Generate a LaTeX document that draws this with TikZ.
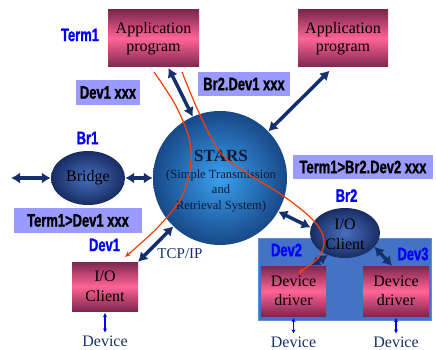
\documentclass[tikz,border=0pt]{standalone}
\usepackage{fontspec}
\setmainfont{Liberation Serif}
\newfontfamily\labfont[FakeStretch=0.72,FakeBold=1.2]{Liberation Sans}
\usetikzlibrary{arrows.meta,shapes.geometric}
\definecolor{navy}{RGB}{22,48,108}
\definecolor{boxdark}{RGB}{125,38,78}
\definecolor{boxmid}{RGB}{255,100,150}
\definecolor{lav}{RGB}{155,155,255}
\definecolor{redl}{RGB}{255,60,0}
\definecolor{contblue}{RGB}{68,114,196}
\definecolor{contedge}{RGB}{100,140,215}
\definecolor{starin}{RGB}{58,160,240}
\definecolor{starout}{RGB}{24,72,135}
\definecolor{ellin}{RGB}{72,112,192}
\definecolor{ellout}{RGB}{24,44,98}
\begin{document}
\begin{tikzpicture}[x=1pt,y=-1pt,
  pinkbox/.style={rectangle, top color=boxdark, bottom color=boxdark, middle color=boxmid,
    align=center, inner sep=0pt, font=\fontsize{16}{18}\selectfont},
  lavbox/.style={rectangle, fill=lav, inner sep=0pt, font=\labfont\bfseries\fontsize{18}{18}\selectfont},
  bluelab/.style={text=blue, inner sep=0pt, font=\labfont\bfseries\fontsize{18}{18}\selectfont},
  ovalnode/.style={ellipse, inner color=ellin, outer color=ellout, inner sep=0pt, align=center,
    font=\fontsize{16}{20}\selectfont},
  devtext/.style={text=navy, inner sep=0pt, font=\fontsize{16}{18}\selectfont},
  dblarr/.style={navy, line width=3.5pt, {Latex[length=9pt,width=11pt]}-{Latex[length=9pt,width=11pt]}},
  redline/.style={redl, line width=1.2pt, -{Stealth[length=6pt,width=5pt]}},
  smallarr/.style={blue, line width=1.2pt, {Stealth[length=4pt,width=4pt]}-{Stealth[length=4pt,width=4pt]}}
]
\useasboundingbox (0,0) rectangle (436,350);

% container
\node[rectangle, fill=contblue, draw=contedge, line width=0.6pt,
  minimum width=173pt, minimum height=82pt, inner sep=0pt] (cont) at (344.5,279) {};

% boxes
\node[pinkbox, minimum width=91pt, minimum height=57pt] (app1) at (153.5,38.5) {Application\\program};
\node[pinkbox, minimum width=90pt, minimum height=57pt] (app2) at (343,38.5) {Application\\program};
\node[pinkbox, minimum width=66pt, minimum height=49pt, font=\fontsize{16}{20}\selectfont] (ioc1) at (105,286.5) {I/O\\Client};
\node[pinkbox, minimum width=65pt, minimum height=50pt, font=\fontsize{16}{19}\selectfont] (dd1) at (293.5,291) {Device\\driver};
\node[pinkbox, minimum width=66pt, minimum height=50pt, font=\fontsize{16}{19}\selectfont] (dd2) at (396,291) {Device\\driver};

% STARS
\node[circle, inner color=starin, outer color=starout, minimum size=134pt, inner sep=0pt] (stars) at (220,178) {};
\node[text=navy!50!black, align=center, inner sep=0pt, font=\fontsize{12.5}{15.5}\selectfont] (starstxt) at (221,181)
  {{\fontsize{17}{18}\selectfont\bfseries STARS}\\[1pt](Simple Transmission\\and\\Retrieval System)};

% ellipses
\node[ovalnode, minimum width=74pt, minimum height=54pt] (bridge) at (88,178) {Bridge};
\node[ovalnode, minimum width=70pt, minimum height=50pt] (ioc2) at (345,233) {};
\node[inner sep=0pt, align=center, font=\fontsize{16}{20}\selectfont] (ioc2t) at (345,234) {I/O\\Client};

% label boxes
\node[lavbox, minimum width=64pt, minimum height=25pt] (l1) at (108,92.5) {Dev1 xxx};
\node[lavbox, minimum width=92pt, minimum height=24pt] (l2) at (244,84) {Br2.Dev1 xxx};
\node[lavbox, minimum width=128pt, minimum height=25pt] (l3) at (78,220.5) {Term1>Dev1 xxx};
\node[lavbox, minimum width=140pt, minimum height=24pt] (l4) at (363,167) {Term1>Br2.Dev2 xxx};

% blue labels
\node[bluelab] (term1) at (80,35) {Term1};
\node[bluelab] (br1) at (87.5,138) {Br1};
\node[bluelab] (br2) at (346.5,195.5) {Br2};
\node[bluelab] (dev1) at (104.5,245) {Dev1};
\node[bluelab] (dev2) at (286.5,250) {Dev2};
\node[bluelab] (dev3) at (413,254) {Dev3};

% TCP/IP and devices
\node[devtext, font=\fontsize{15}{17}\selectfont] (tcp) at (180,254) {TCP/IP};
\node[devtext] (devA) at (105,341) {Device};
\node[devtext] (devB) at (293.5,342) {Device};
\node[devtext] (devC) at (396,342) {Device};

% navy arrows
\coordinate (lft) at (11,178);
\draw[dblarr] (lft) -- (bridge.west);
\draw[dblarr] (bridge.east) -- (stars.west);
\draw[dblarr, shorten <=1pt] (app1.-63) -- (stars.114);
\draw[dblarr, shorten <=5pt] (app2.-109) -- (stars.44);
\draw[dblarr] (stars.-30) -- (ioc2.171);
\draw[dblarr] (ioc1.north east) -- (stars.-134);
\draw[dblarr] (ioc2.-128) -- (dd1.55);
\draw[dblarr] (ioc2.-25) -- (dd2.99);

% small device arrows
\draw[smallarr, shorten <=2pt, shorten >=3pt] (ioc1.south) -- (devA.north);
\draw[smallarr, shorten <=2pt, shorten >=3pt] (dd1.south) -- (devB.north);
\draw[smallarr, shorten <=2pt, shorten >=3pt] (dd2.south) -- (devC.north);

% red message paths
\draw[redline] plot[smooth, tension=0.6] coordinates {(154,72) (178,110) (191,150) (184,192) (160,225) (125,257)};
\draw[redline] plot[smooth, tension=0.6] coordinates {(182,72) (200,115) (220,152) (245,172) (282,195) (313,220) (324,240) (318,258) (298,273)};
\end{tikzpicture}
\end{document}
